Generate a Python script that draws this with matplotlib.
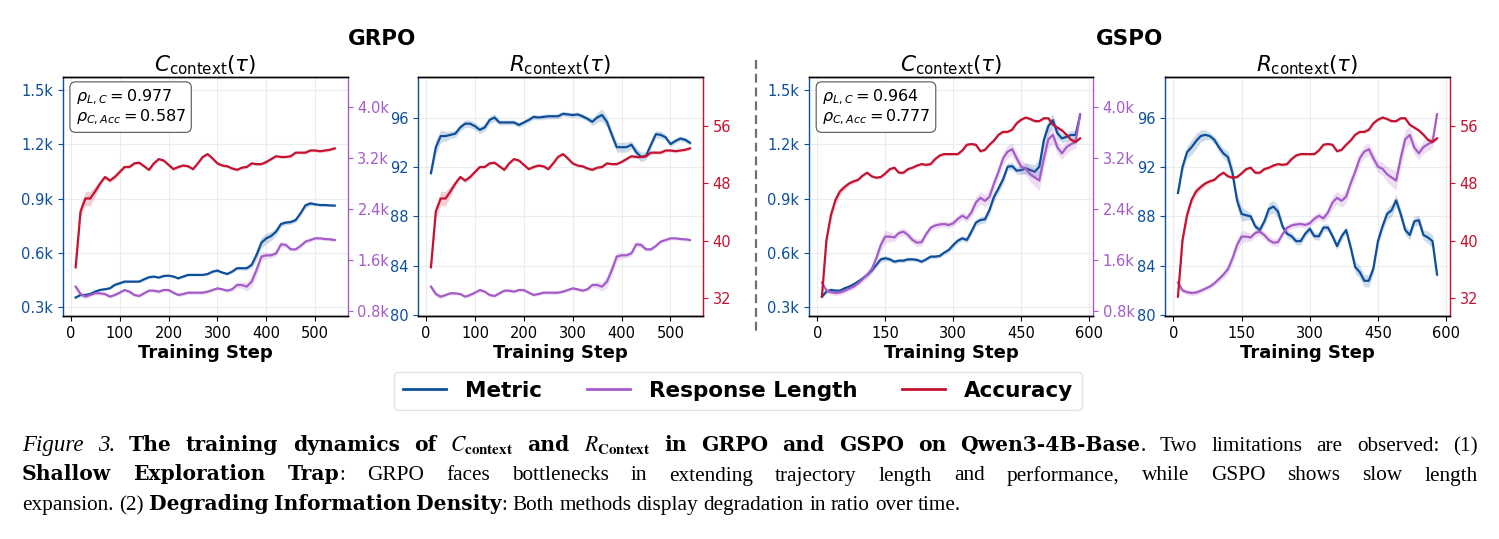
import matplotlib
matplotlib.use("Agg")
import matplotlib.pyplot as plt
from matplotlib.lines import Line2D
from matplotlib.ticker import FuncFormatter, MultipleLocator

BLUE = "#0d4f9b"
PURPLE = "#a55cc9"
RED = "#c41230"

# ---------------- data ----------------
grpo_steps = list(range(10, 550, 10))
gspo_steps = list(range(10, 590, 10))

grpo_c = [354, 368, 368, 374, 387, 396, 400, 405, 424, 433,
          442, 442, 442, 442, 455, 466, 470, 464, 473, 475,
          470, 460, 470, 479, 479, 479, 479, 484, 497, 503,
          492, 484, 497, 516, 516, 516, 534, 589, 657, 681,
          694, 718, 760, 768, 771, 782, 819, 863, 874, 869,
          865, 865, 863, 862]
grpo_c_sd = [5, 6, 6, 6, 6, 6, 6, 6, 8, 8,
             8, 6, 6, 6, 8, 8, 6, 6, 6, 6,
             6, 6, 6, 6, 6, 6, 6, 6, 8, 8,
             6, 6, 8, 10, 10, 12, 18, 28, 30, 30,
             25, 20, 15, 12, 12, 12, 15, 15, 12, 8,
             6, 6, 6, 6]
grpo_r = [91.5, 93.6, 94.5, 94.5, 94.6, 94.7, 95.2, 95.5, 95.5, 95.3,
          95.0, 95.2, 95.8, 96.0, 95.6, 95.6, 95.6, 95.6, 95.4, 95.6,
          95.8, 96.05, 96.0, 96.05, 96.1, 96.1, 96.1, 96.3, 96.25, 96.2,
          96.25, 96.1, 95.9, 95.65, 96.0, 96.2, 95.65, 94.6, 93.6, 93.6,
          93.6, 93.8, 93.2, 92.8, 92.9, 93.8, 94.65, 94.6, 94.4, 93.85,
          94.1, 94.3, 94.2, 93.95]
grpo_r_sd = [0.3, 0.6, 0.5, 0.4, 0.3, 0.3, 0.3, 0.3, 0.3, 0.3,
             0.3, 0.3, 0.3, 0.3, 0.2, 0.2, 0.2, 0.2, 0.2, 0.2,
             0.2, 0.2, 0.2, 0.2, 0.2, 0.2, 0.2, 0.2, 0.2, 0.2,
             0.2, 0.2, 0.2, 0.3, 0.4, 0.5, 0.4, 0.4, 0.4, 0.4,
             0.4, 0.3, 0.4, 0.4, 0.3, 0.3, 0.3, 0.3, 0.2, 0.2,
             0.2, 0.2, 0.2, 0.2]
grpo_len = [1178, 1062, 1020, 1047, 1073, 1073, 1062, 1020, 1047, 1083,
            1125, 1099, 1047, 1031, 1073, 1115, 1115, 1099, 1125, 1125,
            1083, 1047, 1062, 1083, 1083, 1083, 1083, 1099, 1125, 1151,
            1136, 1115, 1136, 1204, 1204, 1178, 1256, 1440, 1650, 1671,
            1671, 1702, 1844, 1834, 1765, 1765, 1818, 1886, 1912, 1938,
            1938, 1928, 1923, 1912]
grpo_len_sd = [40, 45, 30, 25, 25, 25, 25, 25, 25, 25,
               25, 25, 25, 25, 25, 25, 25, 25, 25, 25,
               25, 25, 25, 25, 25, 25, 25, 25, 25, 25,
               25, 25, 30, 40, 50, 70, 90, 100, 70, 50,
               40, 40, 45, 40, 30, 30, 30, 30, 30, 25,
               25, 25, 25, 25]
grpo_acc = [36.3, 44.1, 45.9, 45.9, 46.9, 48.0, 48.9, 48.4, 48.9, 49.6,
            50.3, 50.3, 50.8, 50.9, 50.4, 49.9, 50.8, 51.4, 51.2, 50.6,
            50.0, 50.3, 50.5, 50.4, 50.0, 50.8, 51.7, 52.1, 51.5, 50.8,
            50.5, 50.4, 50.1, 49.9, 50.2, 50.3, 50.8, 50.7, 50.7, 51.0,
            51.4, 51.8, 51.7, 51.7, 51.8, 52.3, 52.3, 52.3, 52.6, 52.6,
            52.5, 52.6, 52.7, 52.9]
grpo_acc_sd = [0.5, 0.8, 1.0, 1.0, 0.7, 0.4, 0.3, 0.3, 0.3, 0.3,
               0.2, 0.2, 0.2, 0.2, 0.2, 0.2, 0.2, 0.2, 0.2, 0.2,
               0.2, 0.2, 0.2, 0.2, 0.2, 0.2, 0.2, 0.2, 0.2, 0.2,
               0.2, 0.2, 0.2, 0.2, 0.2, 0.2, 0.2, 0.2, 0.2, 0.2,
               0.2, 0.2, 0.2, 0.2, 0.2, 0.2, 0.2, 0.2, 0.2, 0.2,
               0.2, 0.2, 0.2, 0.2]

gspo_c = [359, 387, 396, 392, 392, 405, 414, 427, 442, 460,
          479, 503, 534, 565, 571, 565, 552, 558, 558, 565,
          565, 562, 552, 565, 580, 580, 584, 602, 617, 644,
          668, 681, 672, 718, 768, 782, 786, 838, 911, 957,
          1007, 1077, 1080, 1055, 1058, 1068, 1058, 1049, 1077, 1224,
          1301, 1334, 1261, 1233, 1242, 1252, 1252, 1362]
gspo_c_sd = [10, 10, 10, 10, 10, 10, 10, 10, 10, 10,
             10, 12, 15, 15, 15, 12, 10, 10, 10, 10,
             10, 10, 10, 10, 10, 10, 10, 10, 12, 15,
             15, 15, 15, 20, 20, 20, 20, 25, 25, 25,
             25, 20, 20, 20, 25, 30, 35, 40, 45, 45,
             40, 35, 30, 25, 25, 25, 25, 20]
gspo_r = [89.9, 92.0, 93.2, 93.6, 94.1, 94.5, 94.6, 94.5, 94.2, 93.6,
          93.1, 92.8, 91.5, 89.3, 88.2, 88.1, 88.0, 87.2, 86.9, 87.6,
          88.6, 88.8, 88.4, 87.2, 86.6, 86.4, 86.0, 86.0, 86.6, 87.0,
          86.4, 86.4, 87.1, 87.1, 86.4, 85.6, 86.4, 86.9, 85.5, 83.9,
          83.5, 82.8, 82.8, 83.8, 86.0, 87.2, 88.2, 88.5, 89.3, 88.2,
          86.9, 86.5, 87.6, 87.7, 86.5, 86.3, 86.0, 83.3]
gspo_r_sd = [0.3, 0.4, 0.5, 0.6, 0.6, 0.5, 0.4, 0.3, 0.3, 0.4,
             0.4, 0.5, 0.6, 0.6, 0.6, 0.4, 0.3, 0.3, 0.3, 0.3,
             0.5, 0.5, 0.5, 0.3, 0.3, 0.3, 0.3, 0.3, 0.3, 0.3,
             0.3, 0.3, 0.3, 0.3, 0.3, 0.3, 0.3, 0.3, 0.4, 0.5,
             0.5, 0.5, 0.5, 0.4, 0.4, 0.4, 0.5, 0.5, 0.5, 0.4,
             0.4, 0.4, 0.4, 0.4, 0.4, 0.5, 0.5, 0.4]
gspo_len = [1243, 1118, 1091, 1078, 1086, 1112, 1146, 1178, 1230, 1296,
            1366, 1453, 1624, 1834, 1965, 1965, 1952, 2022, 2043, 1991,
            1912, 1870, 1878, 2004, 2104, 2140, 2156, 2164, 2148, 2175,
            2245, 2293, 2253, 2345, 2502, 2576, 2528, 2594, 2804, 2988,
            3198, 3302, 3342, 3197, 3066, 3032, 2948, 2896, 2848, 3198,
            3499, 3565, 3368, 3276, 3373, 3420, 3455, 3892]
gspo_len_sd = [40, 40, 40, 40, 40, 40, 40, 40, 40, 50,
               60, 70, 90, 100, 100, 80, 60, 60, 60, 60,
               60, 60, 60, 50, 50, 50, 50, 50, 50, 50,
               60, 60, 60, 80, 100, 100, 100, 100, 100, 100,
               100, 100, 100, 100, 90, 100, 120, 140, 150, 150,
               150, 130, 110, 100, 100, 100, 100, 80]
gspo_acc = [32.2, 40.1, 43.6, 45.7, 46.9, 47.5, 48.0, 48.3, 48.5, 49.1,
            49.5, 49.0, 48.8, 48.9, 49.4, 50.0, 50.2, 49.5, 49.5, 50.0,
            50.2, 50.5, 50.7, 50.6, 50.7, 51.4, 51.9, 52.1, 52.1, 52.1,
            52.1, 52.6, 53.4, 53.5, 53.4, 52.5, 52.7, 53.4, 54.0, 54.8,
            55.2, 55.2, 55.5, 56.4, 56.9, 57.2, 57.0, 56.7, 56.7, 57.1,
            57.1, 56.2, 55.8, 55.4, 54.8, 54.1, 53.8, 54.3]
gspo_acc_sd = [0.5, 0.8, 0.8, 0.6, 0.5, 0.4, 0.3, 0.3, 0.2, 0.2,
               0.2, 0.2, 0.2, 0.2, 0.2, 0.2, 0.2, 0.2, 0.2, 0.2,
               0.2, 0.2, 0.2, 0.2, 0.2, 0.2, 0.2, 0.2, 0.2, 0.2,
               0.2, 0.2, 0.2, 0.2, 0.2, 0.2, 0.2, 0.2, 0.2, 0.2,
               0.2, 0.2, 0.2, 0.2, 0.2, 0.2, 0.2, 0.2, 0.2, 0.2,
               0.2, 0.2, 0.2, 0.2, 0.2, 0.2, 0.2, 0.2]

rho_grpo = (0.977, 0.587)
rho_gspo = (0.964, 0.777)

c_ticks = [300, 600, 900, 1200, 1500]
r_ticks = [80, 84, 88, 92, 96]
len_ticks = [800, 1600, 2400, 3200, 4000]
acc_ticks = [32, 40, 48, 56]

C_LIM = (252, 1574)
R_LIM = (79.95, 99.3)
LEN_LIM = (716, 4482)
ACC_LIM = (29.5, 62.9)

# ---------------- figure ----------------
W, H = 1499, 539
fig = plt.figure(figsize=(W / 100, H / 100), dpi=100)
kfmt = FuncFormatter(lambda v, p: f"{v / 1000:.1f}k")


def band(ax, x, y, sd, color):
    lo = [a - b for a, b in zip(y, sd)]
    hi = [a + b for a, b in zip(y, sd)]
    ax.fill_between(x, lo, hi, color=color, alpha=0.2, lw=0)
    ax.plot(x, y, color=color, lw=1.6)


def panel(x0, x1, steps, xstep, kind, metric, metric_sd, length, length_sd, acc, acc_sd, rho=None):
    ax = fig.add_axes([x0 / W, 1 - 316 / H, (x1 - x0) / W, (316 - 76.7) / H])
    band(ax, steps, metric, metric_sd, BLUE)
    ax_len = ax.twinx()
    band(ax_len, steps, length, length_sd, PURPLE)
    ax_acc = ax.twinx()
    band(ax_acc, steps, acc, acc_sd, RED)

    ax_len.set_ylim(*LEN_LIM)
    ax_acc.set_ylim(*ACC_LIM)
    ax.xaxis.set_major_locator(MultipleLocator(xstep))
    ax.grid(True, color="#ececec", lw=0.8)
    ax.set_axisbelow(True)
    ax.tick_params(axis="x", labelsize=10.5, length=3.5, width=0.8)
    ax.tick_params(axis="y", colors=BLUE, labelsize=10.5, length=3.5, width=0.8)
    ax.set_xlabel("Training Step", fontsize=13, fontweight="bold", labelpad=2)
    ax.spines["left"].set_color(BLUE)
    ax.spines["right"].set_visible(False)

    if kind == "C":
        ax.set_ylim(*C_LIM)
        ax.set_yticks(c_ticks)
        ax.yaxis.set_major_formatter(kfmt)
        shown, hidden, col = ax_len, ax_acc, PURPLE
        shown.set_yticks(len_ticks)
        shown.yaxis.set_major_formatter(kfmt)
        title = r"$C_{\mathrm{context}}(\tau)$"
    else:
        ax.set_ylim(*R_LIM)
        ax.set_yticks(r_ticks)
        shown, hidden, col = ax_acc, ax_len, RED
        shown.set_yticks(acc_ticks)
        title = r"$R_{\mathrm{context}}(\tau)$"

    hidden.axis("off")
    shown.spines["left"].set_visible(False)
    shown.spines["right"].set_color(col)
    shown.tick_params(axis="y", colors=col, labelsize=10.5, length=3.5, width=0.8)
    for a in (ax, shown):
        for s in a.spines.values():
            s.set_linewidth(1.0)
    ax.set_title(title, fontsize=15.5, pad=4)

    if rho is not None:
        txt = (r"$\rho_{L,C} = %.3f$" % rho[0]) + "\n" + (r"$\rho_{C,Acc} = %.3f$" % rho[1])
        ax_acc.text(0.045, 0.955, txt, transform=ax.transAxes, ha="left", va="top",
                    fontsize=11.5, linespacing=1.05, zorder=10,
                    bbox=dict(boxstyle="round,pad=0.35", fc="white", ec="#555555", lw=0.8))


panel(62.7, 347.7, grpo_steps, 100, "C", grpo_c, grpo_c_sd, grpo_len, grpo_len_sd, grpo_acc, grpo_acc_sd, rho_grpo)
panel(418, 703, grpo_steps, 100, "R", grpo_r, grpo_r_sd, grpo_len, grpo_len_sd, grpo_acc, grpo_acc_sd)
panel(809, 1093, gspo_steps, 150, "C", gspo_c, gspo_c_sd, gspo_len, gspo_len_sd, gspo_acc, gspo_acc_sd, rho_gspo)
panel(1165, 1450, gspo_steps, 150, "R", gspo_r, gspo_r_sd, gspo_len, gspo_len_sd, gspo_acc, gspo_acc_sd)

fig.text(382.5 / W, 1 - 39 / H, "GRPO", ha="center", va="center", fontsize=15.5, fontweight="bold")
fig.text(1129.5 / W, 1 - 39 / H, "GSPO", ha="center", va="center", fontsize=15.5, fontweight="bold")
fig.add_artist(Line2D([756 / W, 756 / W], [1 - 60 / H, 1 - 333 / H], transform=fig.transFigure,
                      color="#707070", lw=1.6, ls=(0, (4, 2.2))))

handles = [Line2D([], [], color=BLUE, lw=2), Line2D([], [], color=PURPLE, lw=2), Line2D([], [], color=RED, lw=2)]
fig.legend(handles, ["Metric", "Response Length", "Accuracy"], loc="center",
           bbox_to_anchor=(738 / W, 1 - 391 / H), ncol=3, prop=dict(weight="bold", size=15.5),
           frameon=True, fancybox=True, edgecolor="#dddddd", handlelength=2, handletextpad=0.87,
           columnspacing=2.1, borderpad=0.4)

# ---------------- caption (justified, mixed styles) ----------------
styles = {
    "it": dict(family="Liberation Serif", style="italic", fontsize=16.5),
    "bf": dict(family="DejaVu Serif", weight="bold", fontsize=14.6),
    "rm": dict(family="Liberation Serif", fontsize=15.3),
    "math": dict(family="Liberation Serif", math_fontfamily="stix", fontsize=15.5),
}
# (text, style, space before)
cap_lines = [
    ([("Figure 3.", "it", False), ("The training dynamics of", "bf", True),
      (r"$C_{\mathbf{context}}$", "math", True), ("and", "bf", True),
      (r"$R_{\mathbf{Context}}$", "math", True), ("in GRPO and GSPO on Qwen3-4B-Base", "bf", True),
      (". Two limitations are observed: (1)", "rm", False)], 451, True),
    ([("Shallow Exploration Trap", "bf", False),
      (": GRPO faces bottlenecks in extending trajectory length and performance, while GSPO shows slow length",
       "rm", False)], 480.5, True),
    ([("expansion. (2)", "rm", False), ("Degrading Information Density", "bf", True),
      (": Both methods display degradation in ratio over time.", "rm", False)], 510, False),
]
LEFT, RIGHT = 22, 1478
renderer = fig.canvas.get_renderer()
space = 15.3 * 100 / 72 * 0.25

for segs, base, justify in cap_lines:
    words = []  # (text, style, space_before)
    for text, st, sp in segs:
        if st == "math":
            words.append((text, st, sp))
            continue
        for i, w in enumerate(text.split(" ")):
            if w:
                words.append((w, st, sp if i == 0 else True))
    objs = []
    for w, st, sp in words:
        t = fig.text(0, 1 - base / H, w, va="baseline", ha="left", **styles[st])
        objs.append((t, t.get_window_extent(renderer).width, sp))
    nsp = sum(1 for o in objs if o[2])
    total = sum(o[1] for o in objs) + nsp * space
    gap = space
    if justify and nsp:
        gap = space + (RIGHT - LEFT - total) / nsp
    x = LEFT
    for t, wdt, sp in objs:
        if sp:
            x += gap
        t.set_x(x / W)
        x += wdt

fig.savefig("out.png", dpi=100)
